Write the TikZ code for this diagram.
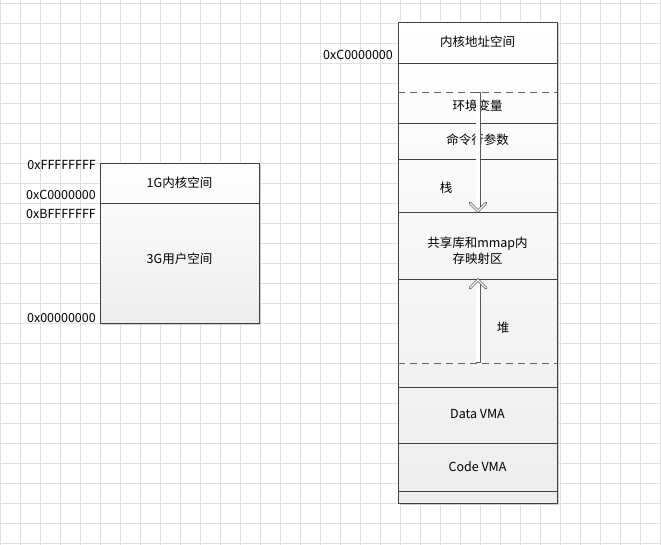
\documentclass[tikz,border=0pt]{standalone}
\usepackage{fontspec}
\setmainfont{Noto Sans CJK SC}
\usetikzlibrary{arrows.meta}
\begin{document}
\begin{tikzpicture}[x=1pt,y=-1pt,
  box/.style={draw=black!75,line width=0.8pt,top color=white,bottom color=black!7},
  sep/.style={draw=black!75,line width=0.8pt},
  dsep/.style={draw=black!60,line width=0.9pt,dash pattern=on 7pt off 5pt},
  lbl/.style={font=\fontsize{12.5}{16}\selectfont,inner sep=1pt},
  addr/.style={lbl,anchor=east},
  hout/.style={draw=black!65,line width=5pt,line cap=butt},
  hin/.style={draw=white,line width=3.2pt,line cap=butt}]
\useasboundingbox (0,0) rectangle (661,545);
\fill[white] (0,0) rectangle (661,545);
\foreach \x in {0,20,...,660} \draw[black!12] (\x,0) -- (\x,545);
\foreach \y in {3,23,...,543} \draw[black!12] (0,\y) -- (661,\y);
% left box
\fill[black!20] (102,165) rectangle (261,325);
\path[box] (100,163) rectangle (259,323);
\draw[sep] (100,203) -- (259,203);
\node[lbl] (k1) at (179.5,183) {1G内核空间};
\node[lbl] (u3) at (179.5,259) {3G用户空间};
\node[addr] (a1) at (97,165) {0xFFFFFFFF};
\node[addr] (a2) at (97,195) {0xC0000000};
\node[addr] (a3) at (97,214) {0xBFFFFFFF};
\node[addr] (a4) at (97,318) {0x00000000};
% right box
\fill[black!20] (400,24) rectangle (559,505);
\path[box] (398,22) rectangle (557,503);
\foreach \y in {63,123,159,212,279,387,443,491} \draw[sep] (398,\y) -- (557,\y);
\draw[dsep] (398,92) -- (557,92);
\draw[dsep] (398,363) -- (557,363);
\node[addr] (a5) at (394,55) {0xC0000000};
\node[lbl] (kas) at (477.5,42) {内核地址空间};
\node[lbl] (env) at (477.5,106) {环境变量};
\node[lbl] (cmd) at (477.5,140) {命令行参数};
\node[lbl] (stk) at (446,188) {栈};
\node[lbl,align=center] (mm) at (477.5,251) {共享库和mmap内\\存映射区};
\node[lbl] (heap) at (503,328) {堆};
\node[lbl] (data) at (477.5,414) {Data VMA};
\node[lbl] (code) at (477.5,467) {Code VMA};
\coordinate (s1) at (478,92);
\coordinate (e1) at (478,208);
\coordinate (s2) at (478,363);
\coordinate (e2) at (478,283);
\draw[hout] (s1) -- (e1);
\draw[hin] ([yshift=-0.9pt]s1) -- (e1);
\draw[draw=black!65,line width=2.6pt,line cap=round,line join=miter] (470,203) -- (478,211) -- (486,203);
\draw[draw=white,line width=1.2pt,line join=miter] (470,203) -- (478,211) -- (486,203);
\draw[hout] (s2) -- (e2);
\draw[hin] ([yshift=0.9pt]s2) -- (e2);
\draw[draw=black!65,line width=2.6pt,line cap=round,line join=miter] (470,288) -- (478,280) -- (486,288);
\draw[draw=white,line width=1.2pt,line join=miter] (470,288) -- (478,280) -- (486,288);
\end{tikzpicture}
\end{document}
